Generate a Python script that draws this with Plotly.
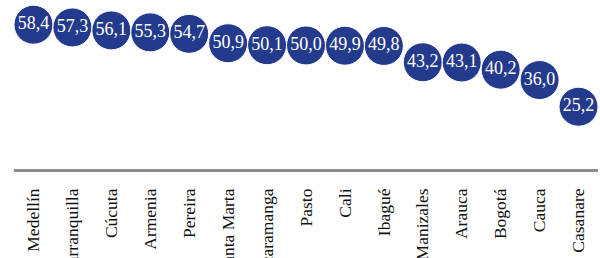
import plotly.graph_objects as go

cities = ["Medellín", "Barranquilla", "Cúcuta", "Armenia", "Pereira", "Santa Marta",
          "Bucaramanga", "Pasto", "Cali", "Ibagué", "Manizales", "Arauca", "Bogotá",
          "Cauca", "Casanare"]
values = [58.4, 57.3, 56.1, 55.3, 54.7, 50.9, 50.1, 50.0, 49.9, 49.8, 43.2, 43.1, 40.2, 36.0, 25.2]

fig = go.Figure(go.Scatter(
    x=cities, y=values, mode="markers+text",
    marker=dict(size=39, color="#243A8C", line=dict(color="white", width=1)),
    text=[f"{v:.1f}".replace(".", ",") for v in values],
    textposition="middle center",
    textfont=dict(family="Liberation Serif", size=18, color="white"),
    cliponaxis=False,
    hoverinfo="skip",
))

fig.update_layout(
    width=600, height=258,
    margin=dict(l=14, r=2, t=0, b=89),
    plot_bgcolor="white", paper_bgcolor="white",
    showlegend=False,
    separators=",.",
)
fig.update_xaxes(
    range=[-0.5, len(cities) - 0.5],
    showline=True, linecolor="#8c8c8c", linewidth=2.5,
    showgrid=False, tickangle=-90, automargin=False,
    tickfont=dict(family="Liberation Serif", size=17.5, color="#111111"),
    ticks="", ticklabelstandoff=10,
)
fig.update_yaxes(range=[0, 68.4], visible=False, showgrid=False, zeroline=False)

fig.write_html(
    "out.html",
    config={"displayModeBar": False, "staticPlot": True},
    post_script="document.body.style.margin='0';document.body.style.overflow='hidden';",
)
